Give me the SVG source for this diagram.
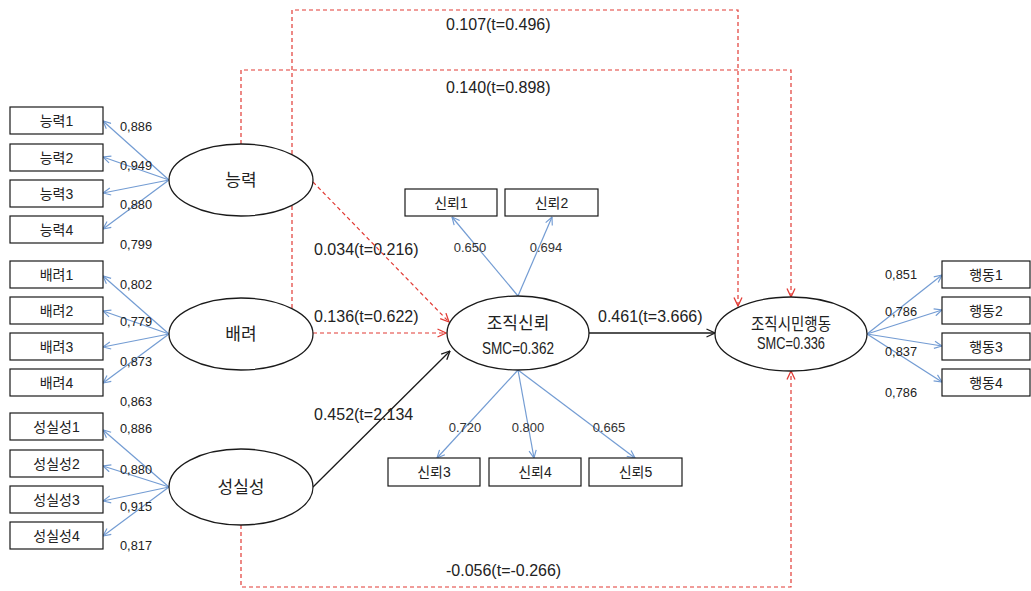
<svg xmlns="http://www.w3.org/2000/svg" width="1031" height="591" viewBox="0 0 1031 591">
<style>
.box{fill:#fff;stroke:#1a1a1a;stroke-width:1.2}
.ell{fill:#fff;stroke:#1a1a1a;stroke-width:1.3}
.bl{stroke:#739cd3;stroke-width:1.2;fill:none;marker-end:url(#ab)}
.rd{stroke:#e23b35;stroke-width:1.2;fill:none;stroke-dasharray:4,3}
.rda{marker-end:url(#ar)}
.bk{stroke:#1a1a1a;stroke-width:1.3;fill:none;marker-end:url(#ak)}
.kt{font-family:"Liberation Sans","Noto Sans CJK KR",sans-serif;font-size:14px;fill:#222;text-anchor:middle}
.kb{font-family:"Noto Sans CJK KR","Liberation Sans",sans-serif;font-size:17px;fill:#222;text-anchor:middle}
.ld{font-family:"Liberation Sans",sans-serif;font-size:13.5px;fill:#222}
.ld2{font-family:"Liberation Sans",sans-serif;font-size:13px;fill:#333;text-anchor:middle}
.pl{font-family:"Liberation Sans",sans-serif;font-size:16px;fill:#222}
.smc{font-family:"Liberation Sans",sans-serif;font-size:17px;fill:#222;text-anchor:middle}
</style>
<defs>
<marker id="ab" viewBox="0 0 10 10" refX="9.5" refY="5" markerWidth="9" markerHeight="9" markerUnits="userSpaceOnUse" orient="auto"><path d="M1,1 L9.5,5 L1,9" fill="none" stroke="#739cd3" stroke-width="1.3"/></marker>
<marker id="ar" viewBox="0 0 10 10" refX="9.5" refY="5" markerWidth="10" markerHeight="10" markerUnits="userSpaceOnUse" orient="auto"><path d="M1,1 L9.5,5 L1,9" fill="none" stroke="#e23b35" stroke-width="1.3"/></marker>
<marker id="ak" viewBox="0 0 10 10" refX="9.5" refY="5" markerWidth="10" markerHeight="10" markerUnits="userSpaceOnUse" orient="auto"><path d="M1,1 L9.5,5 L1,9" fill="none" stroke="#1a1a1a" stroke-width="1.3"/></marker>
</defs>
<rect width="1031" height="591" fill="#fff"/>
<g id="connectors">
<path class="rd rda" d="M292,308 V10 H738 V306"/>
<path class="rd rda" d="M241,144 V70 H791 V297"/>
<path class="rd rda" d="M241,525 V587 H791 V371"/>
<path class="rd rda" d="M313,182 L449,322"/>
<path class="rd rda" d="M313,333 L446,333"/>
<path class="bk" d="M313,487 L450,351"/>
<path class="bk" d="M589,333 L715,333"/>
<path class="bl" d="M169,180 L103,121"/>
<path class="bl" d="M169,180 L103,157"/>
<path class="bl" d="M169,180 L103,193"/>
<path class="bl" d="M169,180 L103,229"/>
<path class="bl" d="M169,334 L103,276"/>
<path class="bl" d="M169,334 L103,311"/>
<path class="bl" d="M169,334 L103,347"/>
<path class="bl" d="M169,334 L103,383"/>
<path class="bl" d="M169,487 L103,430"/>
<path class="bl" d="M169,487 L103,466"/>
<path class="bl" d="M169,487 L103,501"/>
<path class="bl" d="M169,487 L103,536"/>
<path class="bl" d="M518,296 L452,217"/>
<path class="bl" d="M518,296 L552,217"/>
<path class="bl" d="M518,370 L437,458"/>
<path class="bl" d="M518,370 L534,458"/>
<path class="bl" d="M518,370 L635,458"/>
<path class="bl" d="M867,334 L942,275"/>
<path class="bl" d="M867,334 L942,310"/>
<path class="bl" d="M867,334 L942,346"/>
<path class="bl" d="M867,334 L942,382"/>
</g>
<g id="n-ability1"><rect class="box" x="10" y="107" width="93" height="27"/><text class="kt" x="56.5" y="125.5">능력1</text></g>
<g id="n-ability2"><rect class="box" x="10" y="144" width="93" height="27"/><text class="kt" x="56.5" y="162.5">능력2</text></g>
<g id="n-ability3"><rect class="box" x="10" y="180" width="93" height="27"/><text class="kt" x="56.5" y="198.5">능력3</text></g>
<g id="n-ability4"><rect class="box" x="10" y="216" width="93" height="27"/><text class="kt" x="56.5" y="234.5">능력4</text></g>
<g id="n-care1"><rect class="box" x="10" y="261" width="93" height="27"/><text class="kt" x="56.5" y="279.5">배려1</text></g>
<g id="n-care2"><rect class="box" x="10" y="297" width="93" height="27"/><text class="kt" x="56.5" y="315.5">배려2</text></g>
<g id="n-care3"><rect class="box" x="10" y="333" width="93" height="27"/><text class="kt" x="56.5" y="351.5">배려3</text></g>
<g id="n-care4"><rect class="box" x="10" y="369" width="93" height="27"/><text class="kt" x="56.5" y="387.5">배려4</text></g>
<g id="n-int1"><rect class="box" x="10" y="413" width="93" height="27"/><text class="kt" x="56.5" y="431.5">성실성1</text></g>
<g id="n-int2"><rect class="box" x="10" y="450" width="93" height="27"/><text class="kt" x="56.5" y="468.5">성실성2</text></g>
<g id="n-int3"><rect class="box" x="10" y="486" width="93" height="27"/><text class="kt" x="56.5" y="504.5">성실성3</text></g>
<g id="n-int4"><rect class="box" x="10" y="522" width="93" height="27"/><text class="kt" x="56.5" y="540.5">성실성4</text></g>
<g id="n-ability"><ellipse class="ell" cx="241" cy="180" rx="72" ry="36"/><text class="kb" x="241" y="186">능력</text></g>
<g id="n-care"><ellipse class="ell" cx="241" cy="334" rx="72" ry="36"/><text class="kb" x="241" y="340">배려</text></g>
<g id="n-integrity"><ellipse class="ell" cx="241" cy="487" rx="72" ry="38"/><text class="kb" x="241" y="493">성실성</text></g>
<g id="n-trust"><ellipse class="ell" cx="518" cy="333" rx="71" ry="37"/><text class="kb" x="518" y="329">조직신뢰</text><text class="smc" x="518" y="354" textLength="72" lengthAdjust="spacingAndGlyphs">SMC=0.362</text></g>
<g id="n-ocb"><ellipse class="ell" cx="791" cy="334" rx="76" ry="37"/><text class="kb" x="791" y="330" textLength="80" lengthAdjust="spacingAndGlyphs">조직시민행동</text><text class="smc" x="791" y="349" textLength="68" lengthAdjust="spacingAndGlyphs">SMC=0.336</text></g>
<g id="n-trust1"><rect class="box" x="405" y="189" width="92" height="27"/><text class="kt" x="451" y="207.5">신뢰1</text></g>
<g id="n-trust2"><rect class="box" x="505" y="189" width="93" height="27"/><text class="kt" x="551.5" y="207.5">신뢰2</text></g>
<g id="n-trust3"><rect class="box" x="388" y="458" width="92" height="28"/><text class="kt" x="434" y="477">신뢰3</text></g>
<g id="n-trust4"><rect class="box" x="489" y="458" width="92" height="28"/><text class="kt" x="535" y="477">신뢰4</text></g>
<g id="n-trust5"><rect class="box" x="589" y="458" width="93" height="28"/><text class="kt" x="635.5" y="477">신뢰5</text></g>
<g id="n-beh1"><rect class="box" x="942" y="261" width="88" height="27"/><text class="kt" x="986" y="279.5">행동1</text></g>
<g id="n-beh2"><rect class="box" x="942" y="297" width="88" height="27"/><text class="kt" x="986" y="315.5">행동2</text></g>
<g id="n-beh3"><rect class="box" x="942" y="333" width="88" height="27"/><text class="kt" x="986" y="351.5">행동3</text></g>
<g id="n-beh4"><rect class="box" x="942" y="369" width="88" height="27"/><text class="kt" x="986" y="387.5">행동4</text></g>
<g id="labels">
<text class="ld" x="120" y="131" textLength="32" lengthAdjust="spacingAndGlyphs">0,886</text>
<text class="ld" x="120" y="170" textLength="32" lengthAdjust="spacingAndGlyphs">0,949</text>
<text class="ld" x="120" y="209" textLength="32" lengthAdjust="spacingAndGlyphs">0,880</text>
<text class="ld" x="120" y="249" textLength="32" lengthAdjust="spacingAndGlyphs">0,799</text>
<text class="ld" x="120" y="289" textLength="32" lengthAdjust="spacingAndGlyphs">0,802</text>
<text class="ld" x="120" y="326" textLength="32" lengthAdjust="spacingAndGlyphs">0,779</text>
<text class="ld" x="120" y="366" textLength="32" lengthAdjust="spacingAndGlyphs">0,873</text>
<text class="ld" x="120" y="406" textLength="32" lengthAdjust="spacingAndGlyphs">0,863</text>
<text class="ld" x="120" y="433" textLength="32" lengthAdjust="spacingAndGlyphs">0,886</text>
<text class="ld" x="120" y="474" textLength="32" lengthAdjust="spacingAndGlyphs">0,880</text>
<text class="ld" x="120" y="511" textLength="32" lengthAdjust="spacingAndGlyphs">0,915</text>
<text class="ld" x="120" y="550" textLength="32" lengthAdjust="spacingAndGlyphs">0,817</text>
<text class="ld" x="885" y="279" textLength="32" lengthAdjust="spacingAndGlyphs">0,851</text>
<text class="ld" x="885" y="316" textLength="32" lengthAdjust="spacingAndGlyphs">0,786</text>
<text class="ld" x="885" y="356" textLength="32" lengthAdjust="spacingAndGlyphs">0,837</text>
<text class="ld" x="885" y="397" textLength="32" lengthAdjust="spacingAndGlyphs">0,786</text>
<text class="ld2" x="470" y="252">0.650</text>
<text class="ld2" x="546" y="252">0.694</text>
<text class="ld2" x="465" y="432">0.720</text>
<text class="ld2" x="528" y="432">0.800</text>
<text class="ld2" x="609" y="432">0.665</text>
<text class="pl" x="446" y="30">0.107(t=0.496)</text>
<text class="pl" x="446" y="93">0.140(t=0.898)</text>
<text class="pl" x="446" y="576">-0.056(t=-0.266)</text>
<text class="pl" x="314" y="255">0.034(t=0.216)</text>
<text class="pl" x="314" y="322">0.136(t=0.622)</text>
<text class="pl" x="598" y="322">0.461(t=3.666)</text>
<text class="pl" x="314" y="420">0.452(t=2.134</text>
</g>
</svg>
